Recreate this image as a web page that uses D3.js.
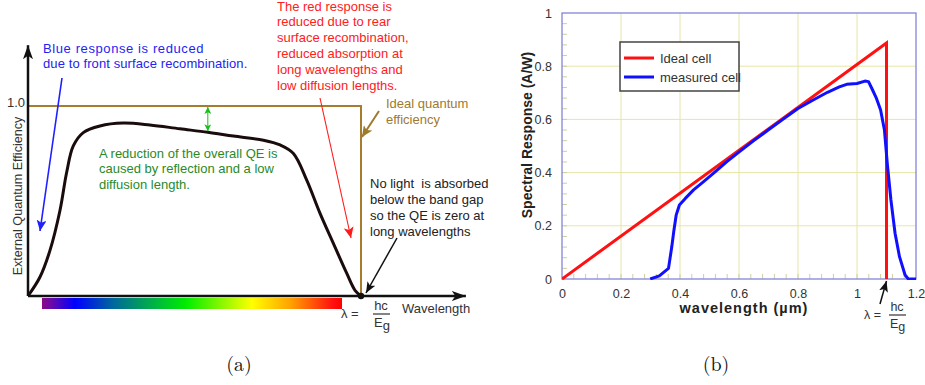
<!DOCTYPE html>
<html>
<head>
<meta charset="utf-8">
<script src="https://cdn.jsdelivr.net/npm/d3@7"></script>
<style>
  html, body { margin: 0; padding: 0; background: #fff; }
  svg { display: block; font-family: "Liberation Sans", Arial, sans-serif; }
  text { white-space: pre; }
</style>
</head>
<body>
<svg id="fig" width="925" height="385"></svg>
<script>
// ---------- Panel (a): external quantum efficiency (schematic) ----------
// wavelength as a fraction of the band-gap wavelength, QE in 0..1
const qeWavelength = [0, 0.036, 0.066, 0.096, 0.116, 0.136, 0.166, 0.216, 0.286, 0.366, 0.456, 0.54, 0.617, 0.707, 0.757, 0.797, 0.837, 0.877, 0.917, 0.957, 0.982, 1];
const qeMeasured   = [0, 0.10, 0.24, 0.45, 0.65, 0.79, 0.86, 0.895, 0.91, 0.90, 0.88, 0.862, 0.842, 0.82, 0.795, 0.75, 0.61, 0.435, 0.277, 0.12, 0.03, 0];
const qeIdealX = [0, 1, 1];
const qeIdealY = [1, 1, 0];
const qeTickLabels = ["1.0"];

// visible spectrum strip: stop offsets and colours
const spectrumOffsets = [0, 0.03, 0.11, 0.24, 0.48, 0.70, 0.83, 0.97, 1];
const spectrumColors  = ["#8a0a86", "#6a0aa8", "#0000ff", "#006a9a", "#00ee00", "#ffff00", "#ffa000", "#ff1010", "#ff0000"];

// ---------- Panel (b): spectral response ----------
const idealCellX = [0, 1.1, 1.1];
const idealCellY = [0, 0.887, 0];
const measuredCellX = [0.299, 0.33, 0.361, 0.372, 0.379, 0.387, 0.398, 0.418, 0.446, 0.48, 0.514, 0.56, 0.604, 0.65, 0.70, 0.75, 0.80, 0.85, 0.90, 0.94, 0.965, 1.0, 1.027, 1.039, 1.050, 1.066, 1.08, 1.093, 1.103, 1.115, 1.129, 1.144, 1.163, 1.174, 1.2];
const measuredCellY = [0, 0.012, 0.040, 0.12, 0.18, 0.24, 0.278, 0.303, 0.335, 0.366, 0.398, 0.442, 0.481, 0.520, 0.561, 0.601, 0.641, 0.672, 0.702, 0.722, 0.732, 0.735, 0.744, 0.742, 0.717, 0.679, 0.635, 0.560, 0.43, 0.297, 0.172, 0.084, 0.015, 0, 0];
const srXTicks = [0, 0.2, 0.4, 0.6, 0.8, 1, 1.2];
const srYTicks = [0, 0.2, 0.4, 0.6, 0.8, 1];
const srSeries = ["Ideal cell", "measured cell"];

const svg = d3.select("#fig");
svg.append("rect").attr("width", 925).attr("height", 385).attr("fill", "#fff");

const defs = svg.append("defs");
function arrowMarker(id, color, len, wid) {
  defs.append("marker")
    .attr("id", id)
    .attr("viewBox", `0 0 ${len} ${wid}`)
    .attr("refX", len).attr("refY", wid / 2)
    .attr("markerWidth", len).attr("markerHeight", wid)
    .attr("markerUnits", "userSpaceOnUse")
    .attr("orient", "auto-start-reverse")
    .append("path")
    .attr("d", `M0,0 L${len},${wid / 2} L0,${wid} L${len * 0.25},${wid / 2} Z`)
    .attr("fill", color);
}
arrowMarker("ahBlack", "#111", 14, 10);
arrowMarker("ahBlue", "#1f1fff", 11, 10);
arrowMarker("ahRed", "#ff1a1a", 11, 10);
arrowMarker("ahBrown", "#a07a2c", 11, 10);
arrowMarker("ahNote", "#111", 11, 9);
arrowMarker("ahGreen", "#17c017", 7, 7);

// ===== Panel (a) =====
const xA = d3.scaleLinear().domain([0, 1]).range([28, 361]);
const yA = d3.scaleLinear().domain([0, 1]).range([296, 106]);
const gA = svg.append("g");

// spectrum strip under the wavelength axis
const grad = defs.append("linearGradient").attr("id", "spectrum");
spectrumOffsets.forEach((o, i) =>
  grad.append("stop").attr("offset", o).attr("stop-color", spectrumColors[i]));
gA.append("rect")
  .attr("x", xA(0.042)).attr("y", 298)
  .attr("width", xA(0.943) - xA(0.042)).attr("height", 11)
  .attr("fill", "url(#spectrum)");

// ideal QE (brown step)
gA.append("path")
  .datum(d3.zip(qeIdealX, qeIdealY))
  .attr("d", d3.line().x(d => xA(d[0])).y(d => yA(d[1])))
  .attr("fill", "none").attr("stroke", "#a67c2e").attr("stroke-width", 2);

// measured QE curve
gA.append("path")
  .datum(d3.zip(qeWavelength, qeMeasured))
  .attr("d", d3.line().x(d => xA(d[0])).y(d => yA(d[1])).curve(d3.curveCatmullRom.alpha(0.5)))
  .attr("fill", "none").attr("stroke", "#1a0c0c").attr("stroke-width", 3)
  .attr("stroke-linejoin", "round");

// axes with arrowheads
gA.append("line")
  .attr("x1", xA(0)).attr("y1", yA(0)).attr("x2", xA(0)).attr("y2", yA(1.32))
  .attr("stroke", "#111").attr("stroke-width", 2.5).attr("marker-end", "url(#ahBlack)");
gA.append("line")
  .attr("x1", xA(0)).attr("y1", yA(0)).attr("x2", xA(1.315)).attr("y2", yA(0))
  .attr("stroke", "#111").attr("stroke-width", 2.5).attr("marker-end", "url(#ahBlack)");

// band-gap point
gA.append("circle").attr("cx", xA(1)).attr("cy", yA(0)).attr("r", 3.2).attr("fill", "#111");

gA.append("text").attr("x", 25).attr("y", yA(1) + 1).attr("text-anchor", "end")
  .attr("font-size", 13).attr("fill", "#333").text(qeTickLabels[0]);

gA.append("text")
  .attr("transform", "translate(22,196) rotate(-90)")
  .attr("text-anchor", "middle").attr("font-size", 12.6).attr("fill", "#333")
  .text("External Quantum Efficiency");

gA.append("text").attr("x", 402).attr("y", 313).attr("font-size", 13).attr("fill", "#333").text("Wavelength");

// λ = hc / Eg under the axis
function lambdaLabel(g, x, y, size, gap) {
  g.append("text").attr("x", x).attr("y", y).attr("font-size", size).attr("fill", "#333").text("λ =");
  const fx = x + gap;
  g.append("text").attr("x", fx + 8).attr("y", y - 8).attr("text-anchor", "middle")
    .attr("font-size", size).attr("fill", "#333").text("hc");
  g.append("line").attr("x1", fx).attr("x2", fx + 17).attr("y1", y - 4).attr("y2", y - 4)
    .attr("stroke", "#333").attr("stroke-width", 1.2);
  const t = g.append("text").attr("x", fx + 1).attr("y", y + 9).attr("font-size", size).attr("fill", "#333");
  t.append("tspan").text("E");
  t.append("tspan").attr("dy", 3).text("g");
}
lambdaLabel(gA, 341, 318, 13, 32);

// annotations
function lines(g, x, y0, dy, arr, color, spacing) {
  const t = g.append("text").attr("font-size", 13).attr("fill", color);
  arr.forEach((s, i) => t.append("tspan").attr("x", x).attr("y", y0 + i * dy)
    .attr("letter-spacing", spacing ? spacing[i] : 0).text(s));
}
lines(gA, 43, 52.5, 15.5, ["Blue response is reduced", "due to front surface recombination."], "#2424f0", [0.6, 0.1]);
lines(gA, 277, 10.5, 15.8, ["The red response is", "reduced due to rear", "surface recombination,",
  "reduced absorption at", "long wavelengths and", "low diffusion lengths."], "#ff2020");
lines(gA, 99, 157.5, 15.8, ["A reduction of the overall QE is", "caused by reflection and a low", "diffusion length."], "#2a8a2a");
lines(gA, 386, 108, 16, ["Ideal quantum", "efficiency"], "#a07a2c");
lines(gA, 370, 188, 16, ["No light  is absorbed", "below the band gap", "so the QE is zero at", "long wavelengths"], "#222");

gA.append("line").attr("x1", 62).attr("y1", 78).attr("x2", 40).attr("y2", 231)
  .attr("stroke", "#1f1fff").attr("stroke-width", 1.6).attr("marker-end", "url(#ahBlue)");
gA.append("line").attr("x1", 320).attr("y1", 98).attr("x2", 351).attr("y2", 238)
  .attr("stroke", "#ff1a1a").attr("stroke-width", 1.1).attr("marker-end", "url(#ahRed)");
gA.append("line").attr("x1", 379).attr("y1", 111).attr("x2", 362).attr("y2", 137)
  .attr("stroke", "#a07a2c").attr("stroke-width", 2).attr("marker-end", "url(#ahBrown)");
gA.append("line").attr("x1", 397).attr("y1", 238).attr("x2", 366).attr("y2", 293)
  .attr("stroke", "#111").attr("stroke-width", 1.5).attr("marker-end", "url(#ahNote)");
gA.append("line").attr("x1", xA(0.54)).attr("y1", yA(1) + 1).attr("x2", xA(0.54)).attr("y2", yA(0.862) - 1)
  .attr("stroke", "#17c017").attr("stroke-width", 1)
  .attr("marker-start", "url(#ahGreen)").attr("marker-end", "url(#ahGreen)");

// ===== Panel (b) =====
const xB = d3.scaleLinear().domain([0, 1.2]).range([562, 916]);
const yB = d3.scaleLinear().domain([0, 1]).range([279, 13]);
const gB = svg.append("g");

// grid
gB.append("g").selectAll("line").data(srXTicks.slice(1, -1)).join("line")
  .attr("x1", d => xB(d)).attr("x2", d => xB(d)).attr("y1", yB(0)).attr("y2", yB(1))
  .attr("stroke", "#e6e6a6").attr("stroke-width", 1);
gB.append("g").selectAll("line").data(srYTicks.slice(1, -1)).join("line")
  .attr("x1", xB(0)).attr("x2", xB(1.2)).attr("y1", d => yB(d)).attr("y2", d => yB(d))
  .attr("stroke", "#e6e6a6").attr("stroke-width", 1);

// minor ticks (inside) on left and bottom
const minorX = d3.range(1, 30).map(i => i * 0.04);
const minorY = d3.range(1, 25).map(i => i * 0.04);
gB.append("g").selectAll("line").data(minorX).join("line")
  .attr("x1", d => xB(d)).attr("x2", d => xB(d)).attr("y1", yB(0)).attr("y2", yB(0) - 5)
  .attr("stroke", "#cfcf9a").attr("stroke-width", 1);
gB.append("g").selectAll("line").data(minorY).join("line")
  .attr("x1", xB(0)).attr("x2", xB(0) + 5).attr("y1", d => yB(d)).attr("y2", d => yB(d))
  .attr("stroke", "#cfcf9a").attr("stroke-width", 1);

// tick labels via d3 axes
const axX = gB.append("g").attr("transform", `translate(0,${yB(0)})`)
  .call(d3.axisBottom(xB).tickValues(srXTicks).tickSize(0).tickPadding(10).tickFormat(d3.format("~g")));
const axY = gB.append("g").attr("transform", `translate(${xB(0)},0)`)
  .call(d3.axisLeft(yB).tickValues(srYTicks).tickSize(0).tickPadding(10).tickFormat(d3.format("~g")));
[axX, axY].forEach(a => {
  a.select(".domain").remove();
  a.selectAll("text").attr("font-size", 12.5).attr("fill", "#333")
    .attr("font-family", "'Liberation Sans', Arial, sans-serif");
});

// frame
gB.append("rect").attr("x", xB(0)).attr("y", yB(1)).attr("width", xB(1.2) - xB(0)).attr("height", yB(0) - yB(1))
  .attr("fill", "none").attr("stroke", "#8585dc").attr("stroke-width", 1.3);

// series
defs.append("clipPath").attr("id", "plotB").append("rect")
  .attr("x", xB(0)).attr("y", yB(1)).attr("width", xB(1.2) - xB(0)).attr("height", yB(0) - yB(1) + 1);
const lineB = d3.line().x(d => xB(d[0])).y(d => yB(d[1]));
gB.append("path").datum(d3.zip(idealCellX, idealCellY)).attr("d", lineB)
  .attr("fill", "none").attr("stroke", "#ff1111").attr("stroke-width", 3).attr("stroke-linejoin", "miter")
  .attr("clip-path", "url(#plotB)");
gB.append("path").datum(d3.zip(measuredCellX, measuredCellY)).attr("d", lineB)
  .attr("fill", "none").attr("stroke", "#1010ff").attr("stroke-width", 3).attr("stroke-linejoin", "round")
  .attr("clip-path", "url(#plotB)");

// legend
const lg = gB.append("g");
lg.append("rect").attr("x", 620).attr("y", 42).attr("width", 119).attr("height", 49)
  .attr("fill", "#fff").attr("stroke", "#444").attr("stroke-width", 1.5);
const legColors = ["#ff1111", "#1010ff"];
srSeries.forEach((s, i) => {
  const y = 58 + i * 19;
  lg.append("line").attr("x1", 624).attr("x2", 654).attr("y1", y).attr("y2", y)
    .attr("stroke", legColors[i]).attr("stroke-width", 3);
  lg.append("text").attr("x", 660).attr("y", y + 4.5).attr("font-size", 13).attr("fill", "#333").text(s);
});

// axis titles
gB.append("text").attr("x", 744).attr("y", 313).attr("text-anchor", "middle")
  .attr("font-size", 14.5).attr("font-weight", "bold").attr("letter-spacing", 1).attr("fill", "#222")
  .text("wavelength (µm)");
gB.append("text").attr("transform", "translate(532,135) rotate(-90)").attr("text-anchor", "middle")
  .attr("font-size", 14).attr("font-weight", "bold").attr("fill", "#222")
  .text("Spectral Response (A/W)");

// band-gap arrow and label
gB.append("line").attr("x1", 880).attr("y1", 304).attr("x2", xB(1.1)).attr("y2", yB(0) + 2)
  .attr("stroke", "#111").attr("stroke-width", 1.5).attr("marker-end", "url(#ahNote)");
lambdaLabel(gB, 864, 319, 12.5, 25);

// sub-figure captions
svg.append("text").attr("x", 239).attr("y", 371).attr("text-anchor", "middle")
  .attr("font-family", "'Latin Modern Roman', 'Liberation Serif', 'DejaVu Serif', serif")
  .attr("font-size", 20).attr("fill", "#111").text("(a)");
svg.append("text").attr("x", 716).attr("y", 371).attr("text-anchor", "middle")
  .attr("font-family", "'Latin Modern Roman', 'Liberation Serif', 'DejaVu Serif', serif")
  .attr("font-size", 20).attr("fill", "#111").text("(b)");
</script>
</body>
</html>
